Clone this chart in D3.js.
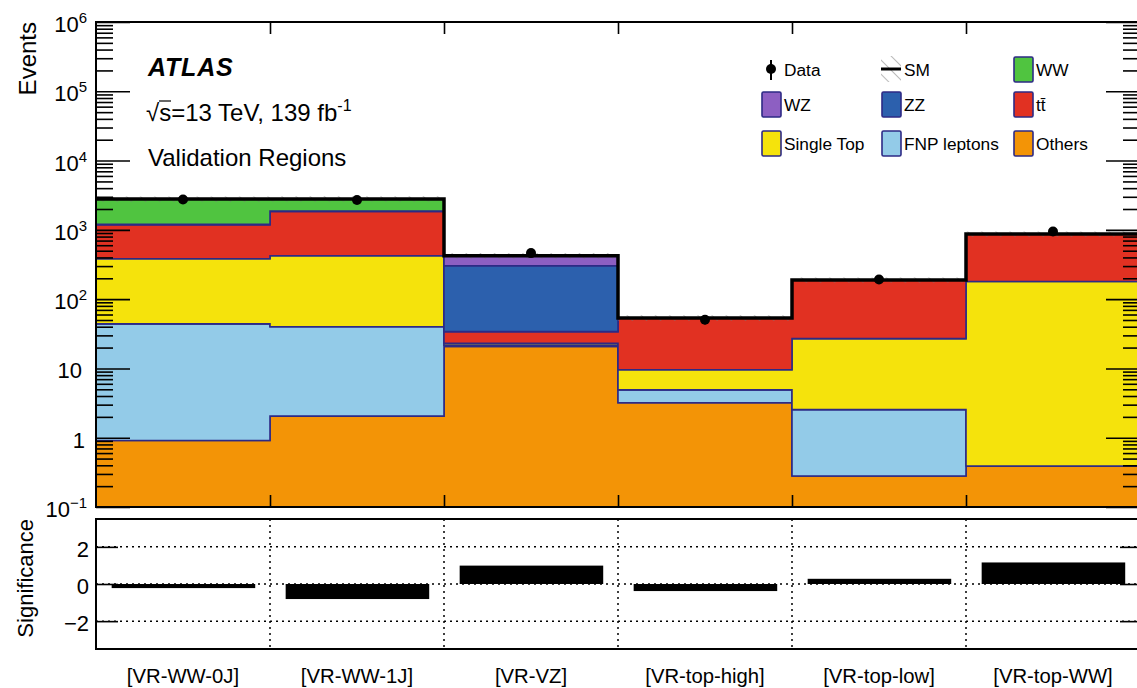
<!DOCTYPE html>
<html>
<head>
<meta charset="utf-8">
<script src="https://cdn.jsdelivr.net/npm/d3@7"></script>
<style>
  body { margin: 0; background: #fff; }
  text { font-family: "Liberation Sans", Arial, Helvetica, sans-serif; fill: #000; }
</style>
</head>
<body>
<div id="chart"></div>
<script>
// regions (one bin each)
var regions = ["[VR-WW-0J]", "[VR-WW-1J]", "[VR-VZ]", "[VR-top-high]", "[VR-top-low]", "[VR-top-WW]"];

// expected events per sample, stacked bottom -> top
var others   = [0.91, 2.05, 20.8, 3.2, 0.28, 0.39];
var fnp      = [43, 38, 0.9, 1.7, 2.26, 0.0];
var singleTop= [339, 383, 1.4, 4.65, 24.4, 179.6];
var ttbar    = [802, 1422, 10.9, 43.8, 162, 689];
var zz       = [8, 10, 269, 0.0, 0.0, 0.0];
var wz       = [12, 15, 117, 0.0, 0.0, 0.0];
var ww       = [1575, 930, 3, 0.0, 0.0, 0.0];

var smUnc    = [250, 260, 40, 5, 17, 80];
var data     = [2740, 2700, 462, 50.5, 192, 948];
var signif   = [-0.22, -0.81, 0.99, -0.38, 0.28, 1.16];

var yTicksMain = [0.1, 1, 10, 100, 1e3, 1e4, 1e5, 1e6];
var yTicksSig  = [-2, 0, 2];

var samples = [
  {key: "others", label: "Others",      values: others},
  {key: "fnp",    label: "FNP leptons", values: fnp},
  {key: "st",     label: "Single Top",  values: singleTop},
  {key: "tt",     label: "tt\u0304",    values: ttbar},
  {key: "zz",     label: "ZZ",          values: zz},
  {key: "wz",     label: "WZ",          values: wz},
  {key: "ww",     label: "WW",          values: ww}
];
var colors = {others: "#f39406", fnp: "#93cbe8", st: "#f5e30c", tt: "#e13122",
              zz: "#2c60ad", wz: "#8d5fc2", ww: "#50c440"};
var edge = "#2d2a85";

var width = 1137, height = 688;
var mLeft = 96, mRight = 1140, mTop = 22, mainBottom = 507, sigTop = 519, sigBottom = 649;

var svg = d3.select("#chart").append("svg")
  .attr("width", width).attr("height", height);

var defs = svg.append("defs");
var hatch = defs.append("pattern")
  .attr("id", "hatch").attr("patternUnits", "userSpaceOnUse")
  .attr("width", 10).attr("height", 10)
  .attr("patternTransform", "rotate(-45)");
hatch.append("line").attr("x1", 0).attr("y1", 0).attr("x2", 0).attr("y2", 10)
  .attr("stroke", "#777").attr("stroke-width", 1);

var x = d3.scaleLinear().domain([0, regions.length]).range([mLeft, mRight]);
var y = d3.scaleLog().domain([0.1, 1e6]).range([mainBottom, mTop]).clamp(true);
var ys = d3.scaleLinear().domain([-3.5, 3.5]).range([sigBottom, sigTop]);

function safe(v) { return Math.max(v, 0.01); }

// stack
var rows = regions.map(function(r, i) {
  var o = {i: i};
  samples.forEach(function(s) { o[s.key] = s.values[i]; });
  return o;
});
var stack = d3.stack().keys(samples.map(function(s) { return s.key; }))(rows);

var plot = svg.append("g");
defs.append("clipPath").attr("id", "clipMain").append("rect")
  .attr("x", mLeft).attr("y", mTop).attr("width", mRight - mLeft).attr("height", mainBottom - mTop);
var layers = plot.append("g").attr("clip-path", "url(#clipMain)");

var area = d3.area()
  .x(function(d) { return x(d.i); })
  .y0(function(d) { return y(safe(d.lo)); })
  .y1(function(d) { return y(safe(d.hi)); })
  .curve(d3.curveStepAfter);

stack.forEach(function(layer) {
  var pts = layer.map(function(d, i) { return {i: i, lo: d[0], hi: d[1]}; });
  pts.push({i: regions.length, lo: pts[pts.length - 1].lo, hi: pts[pts.length - 1].hi});
  layers.append("path")
    .attr("d", area(pts))
    .attr("fill", colors[layer.key])
    .attr("stroke", edge).attr("stroke-width", 1.6)
    .attr("stroke-linejoin", "miter");
});

// SM total and uncertainty
var totals = rows.map(function(r) {
  return d3.sum(samples, function(s) { return r[s.key]; });
});
var uncPts = totals.map(function(t, i) { return {i: i, lo: t - smUnc[i], hi: t + smUnc[i]}; });
uncPts.push({i: regions.length, lo: uncPts[uncPts.length - 1].lo, hi: uncPts[uncPts.length - 1].hi});
layers.append("path").attr("d", area(uncPts)).attr("fill", "url(#hatch)");

var totPts = totals.map(function(t, i) { return {i: i, v: t}; });
totPts.push({i: regions.length, v: totals[totals.length - 1]});
layers.append("path")
  .attr("d", d3.line().x(function(d) { return x(d.i); }).y(function(d) { return y(d.v); })
    .curve(d3.curveStepAfter)(totPts))
  .attr("fill", "none").attr("stroke", "#000").attr("stroke-width", 3.5);

// data points
var pts = plot.append("g");
data.forEach(function(d, i) {
  var e = Math.sqrt(d);
  pts.append("line").attr("x1", x(i + 0.5)).attr("x2", x(i + 0.5))
    .attr("y1", y(d + e)).attr("y2", y(d - e)).attr("stroke", "#000").attr("stroke-width", 2);
  pts.append("circle").attr("cx", x(i + 0.5)).attr("cy", y(d)).attr("r", 5).attr("fill", "#000");
});

// axes main panel
var minor = [];
for (var k = -1; k < 6; k++) for (var m = 2; m <= 9; m++) minor.push(m * Math.pow(10, k));

function styleAxis(g) {
  g.select(".domain").remove();
  g.selectAll(".tick line").attr("stroke", "#000").attr("stroke-width", 1.6);
  g.selectAll(".tick text").remove();
}
svg.append("g").attr("transform", "translate(" + mLeft + ",0)")
  .call(d3.axisLeft(y).tickValues(yTicksMain).tickSizeInner(-34).tickSizeOuter(0)).call(styleAxis);
svg.append("g").attr("transform", "translate(" + mLeft + ",0)")
  .call(d3.axisLeft(y).tickValues(minor).tickSizeInner(-17).tickSizeOuter(0)).call(styleAxis);
svg.append("g").attr("transform", "translate(" + mRight + ",0)")
  .call(d3.axisRight(y).tickValues(yTicksMain).tickSizeInner(-34).tickSizeOuter(0)).call(styleAxis);
svg.append("g").attr("transform", "translate(" + mRight + ",0)")
  .call(d3.axisRight(y).tickValues(minor).tickSizeInner(-17).tickSizeOuter(0)).call(styleAxis);
var binEdges = d3.range(1, regions.length);
svg.append("g").attr("transform", "translate(0," + mainBottom + ")")
  .call(d3.axisBottom(x).tickValues(binEdges).tickSizeInner(-12).tickSizeOuter(0)).call(styleAxis);
svg.append("g").attr("transform", "translate(0," + mTop + ")")
  .call(d3.axisTop(x).tickValues(binEdges).tickSizeInner(-12).tickSizeOuter(0)).call(styleAxis);

svg.append("rect").attr("x", mLeft).attr("y", mTop).attr("width", mRight - mLeft)
  .attr("height", mainBottom - mTop).attr("fill", "none").attr("stroke", "#000").attr("stroke-width", 2);

// y tick labels (powers of ten)
var supers = {"-1": "\u22121", "2": "2", "3": "3", "4": "4", "5": "5", "6": "6"};
yTicksMain.forEach(function(v) {
  var p = Math.round(Math.log10(v));
  var t = svg.append("text").attr("y", y(v) + 10).attr("font-size", 22).attr("text-anchor", "end");
  if (p === 0 || p === 1) {
    t.attr("x", p === 1 ? 82 : 85).text(String(v));
  } else {
    t.attr("x", 87);
    t.append("tspan").text("10");
    t.append("tspan").attr("font-size", 15).attr("dy", -9).text(supers[String(p)]);
  }
});

svg.append("text").attr("transform", "translate(36," + mTop + ") rotate(-90)")
  .attr("text-anchor", "end").attr("font-size", 24).text("Events");

// labels
svg.append("text").attr("x", 148).attr("y", 76).attr("font-size", 25)
  .attr("font-weight", "bold").attr("font-style", "italic").attr("letter-spacing", 0.8).text("ATLAS");
var lum = svg.append("text").attr("x", 146).attr("y", 121).attr("font-size", 24);
lum.append("tspan").text("\u221As=13 TeV, 139 fb");
lum.append("tspan").attr("font-size", 16).attr("dy", -10).text("-1");
svg.append("line").attr("x1", 159).attr("x2", 171).attr("y1", 101).attr("y2", 101)
  .attr("stroke", "#000").attr("stroke-width", 1.2);
svg.append("text").attr("x", 148).attr("y", 166).attr("font-size", 24).text("Validation Regions");

// legend
var legCols = [761, 881, 1013];
var legRows = [70, 105, 144];
var legend = [
  {type: "data", label: "Data"},
  {type: "sm", label: "SM"},
  {type: "box", key: "ww"},
  {type: "box", key: "wz"},
  {type: "box", key: "zz"},
  {type: "box", key: "tt"},
  {type: "box", key: "st"},
  {type: "box", key: "fnp"},
  {type: "box", key: "others"}
];
var lg = svg.append("g");
legend.forEach(function(l, n) {
  var cx = legCols[n % 3], cy = legRows[Math.floor(n / 3)];
  var label = l.label;
  if (l.type === "data") {
    lg.append("line").attr("x1", cx + 10).attr("x2", cx + 10).attr("y1", cy - 10).attr("y2", cy + 10)
      .attr("stroke", "#000").attr("stroke-width", 2);
    lg.append("circle").attr("cx", cx + 10).attr("cy", cy - 1).attr("r", 5).attr("fill", "#000");
  } else if (l.type === "sm") {
    lg.append("rect").attr("x", cx).attr("y", cy - 14).attr("width", 20).attr("height", 26)
      .attr("fill", "url(#hatch)");
    lg.append("line").attr("x1", cx).attr("x2", cx + 20).attr("y1", cy - 1).attr("y2", cy - 1)
      .attr("stroke", "#000").attr("stroke-width", 3);
  } else {
    var s = samples.filter(function(q) { return q.key === l.key; })[0];
    label = s.label;
    lg.append("rect").attr("x", cx + 1).attr("y", cy - 13).attr("width", 19).attr("height", 25)
      .attr("rx", 1.5).attr("fill", colors[l.key]).attr("stroke", edge).attr("stroke-width", 1.6);
  }
  lg.append("text").attr("x", cx + 23).attr("y", cy + 6).attr("font-size", 17.3).text(label);
});

// significance panel
var sig = svg.append("g");
yTicksSig.forEach(function(v) {
  sig.append("line").attr("x1", mLeft).attr("x2", mRight).attr("y1", ys(v)).attr("y2", ys(v))
    .attr("stroke", "#000").attr("stroke-width", 1.5).attr("stroke-dasharray", "2,4");
});
binEdges.forEach(function(b) {
  sig.append("line").attr("x1", x(b)).attr("x2", x(b)).attr("y1", sigTop).attr("y2", sigBottom)
    .attr("stroke", "#000").attr("stroke-width", 1.5).attr("stroke-dasharray", "2,4");
});
signif.forEach(function(v, i) {
  sig.append("rect")
    .attr("x", x(i + 0.09)).attr("width", x(i + 0.915) - x(i + 0.09))
    .attr("y", ys(Math.max(v, 0))).attr("height", Math.abs(ys(v) - ys(0)))
    .attr("fill", "#000");
});
svg.append("g").attr("transform", "translate(" + mLeft + ",0)")
  .call(d3.axisLeft(ys).tickValues(yTicksSig).tickSizeInner(-22).tickSizeOuter(0)).call(styleAxis);
svg.append("g").attr("transform", "translate(" + mRight + ",0)")
  .call(d3.axisRight(ys).tickValues(yTicksSig).tickSizeInner(-20).tickSizeOuter(0)).call(styleAxis);
svg.append("rect").attr("x", mLeft).attr("y", sigTop).attr("width", mRight - mLeft)
  .attr("height", sigBottom - sigTop).attr("fill", "none").attr("stroke", "#000").attr("stroke-width", 2);

yTicksSig.forEach(function(v) {
  svg.append("text").attr("x", 89).attr("y", ys(v) + 10).attr("font-size", 22)
    .attr("text-anchor", "end").text(v < 0 ? "\u2212" + Math.abs(v) : String(v));
});
svg.append("text").attr("transform", "translate(33," + sigTop + ") rotate(-90)")
  .attr("text-anchor", "end").attr("font-size", 22).text("Significance");

regions.forEach(function(r, i) {
  svg.append("text").attr("x", x(i + 0.5)).attr("y", 683).attr("font-size", 20.3)
    .attr("text-anchor", "middle").text(r);
});
</script>
</body>
</html>
